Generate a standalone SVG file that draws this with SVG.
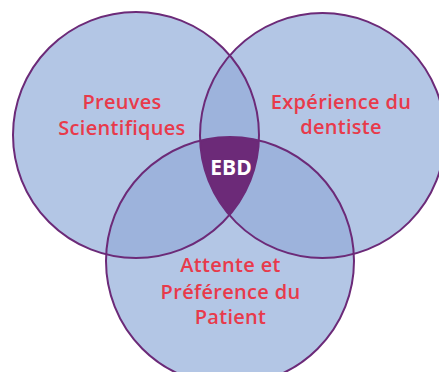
<svg xmlns="http://www.w3.org/2000/svg" width="439" height="372" viewBox="0 0 439 372">
  <style>
    .base { fill: #b3c6e5; }
    .pair { fill: #9db3dc; }
    .core { fill: #6c2a78; }
    .ring { fill: none; stroke: #6c2a78; stroke-width: 2; }
    .lbl { font-family: "Open Sans", "DejaVu Sans", sans-serif; font-weight: 600; font-size: 20px; letter-spacing: 0.3px; fill: #e83a4b; text-anchor: middle; }
    .core-lbl { font-family: "Open Sans", "DejaVu Sans", sans-serif; font-weight: 700; font-size: 21px; fill: #ffffff; text-anchor: middle; }
  </style>
  <defs>
    <circle id="cA" cx="136" cy="135" r="123"/>
    <circle id="cB" cx="322.5" cy="135.5" r="122.5"/>
    <circle id="cC" cx="230" cy="261" r="124"/>
    <clipPath id="clipA"><use href="#cA"/></clipPath>
    <clipPath id="clipB"><use href="#cB"/></clipPath>
  </defs>
  <rect width="439" height="372" fill="#ffffff"/>

  <g id="sets">
    <use href="#cA" class="base"/>
    <use href="#cB" class="base"/>
    <use href="#cC" class="base"/>
    <!-- pairwise overlaps -->
    <g clip-path="url(#clipA)"><use href="#cB" class="pair"/></g>
    <g clip-path="url(#clipA)"><use href="#cC" class="pair"/></g>
    <g clip-path="url(#clipB)"><use href="#cC" class="pair"/></g>
    <!-- triple overlap -->
    <g clip-path="url(#clipA)"><g clip-path="url(#clipB)"><use href="#cC" class="core"/></g></g>
  </g>

  <g id="node-preuves">
    <use href="#cA" class="ring"/>
    <text class="lbl" x="122" y="109">Preuves</text>
    <text class="lbl" x="122" y="135">Scientifiques</text>
  </g>
  <g id="node-experience">
    <use href="#cB" class="ring"/>
    <text class="lbl" x="341" y="109">Expérience du</text>
    <text class="lbl" x="341" y="134">dentiste</text>
  </g>
  <g id="node-patient">
    <use href="#cC" class="ring"/>
    <text class="lbl" x="230.5" y="272">Attente et</text>
    <text class="lbl" x="230.5" y="299">Préférence du</text>
    <text class="lbl" x="230.5" y="324">Patient</text>
  </g>
  <g id="node-ebd">
    <text class="core-lbl" x="231" y="175">EBD</text>
  </g>
</svg>
